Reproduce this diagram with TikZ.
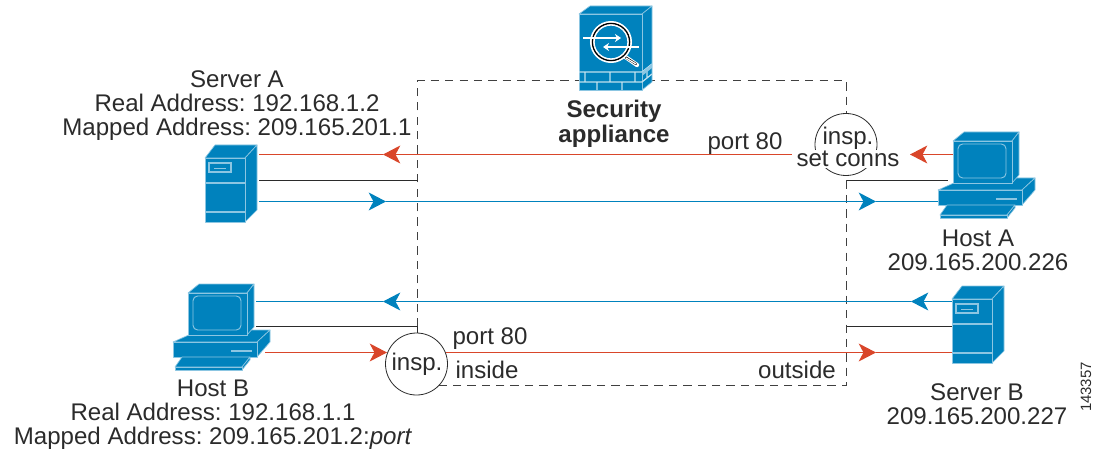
\documentclass[tikz,border=0pt]{standalone}
\usepackage{fontspec}
\setmainfont{Liberation Sans}
\frenchspacing
\usetikzlibrary{arrows.meta}
\definecolor{ciscoblue}{HTML}{0082BD}
\definecolor{edgeblue}{HTML}{8CC6E2}
\definecolor{flowred}{HTML}{D9462A}
\definecolor{inkgrey}{HTML}{2B2B2B}
\tikzset{
  x=0.75pt,y=-0.75pt,
  ico/.style={fill=ciscoblue,draw=edgeblue,line width=0.5pt,line join=round},
  lbl/.style={font=\fontsize{18.05}{18.1}\selectfont,text=inkgrey,align=center,inner sep=0pt},
  boundary/.style={draw=black!75,line width=1pt,dash pattern=on 6.2pt off 4.6pt},
  wire/.style={draw=inkgrey,line width=0.8pt},
  redflow/.style={draw=flowred,line width=0.85pt},
  blueflow/.style={draw=ciscoblue,line width=0.85pt},
  headed/.style={-{Stealth[length=13pt,width=13.5pt,inset=3.6pt]}},
  insp/.style={circle,draw=inkgrey,fill=white,line width=0.6pt,minimum size=46.5pt,inner sep=0pt},
  server/.pic={
    \path[ico] (0,0)--(10,-13)--(52,-13)--(40,0)--cycle;
    \path[ico] (40,0)--(52,-13)--(52,52)--(40,64)--cycle;
    \path[ico] (0,0) rectangle (40,64);
    \draw[edgeblue,line width=0.8pt] (0,25)--(40,25) (0,54)--(40,54);
    \draw[edgeblue,line width=0.8pt] (4,5) rectangle (26,14);
    \draw[edgeblue,line width=0.7pt] (9,10)--(21,10);
  },
  host/.pic={
    \path[ico] (-15,49)--(12,37)--(82,37)--(69,49)--cycle;
    \path[ico] (69,49)--(82,37)--(82,49)--(69,64)--cycle;
    \path[ico] (-15,49) rectangle (69,64);
    \draw[edgeblue,line width=0.9pt] (43,58)--(64,58);
    \path[ico] (0,0)--(11,-9)--(66,-9)--(59,0)--cycle;
    \path[ico] (59,0)--(66,-9)--(66,34)--(59,42)--cycle;
    \path[ico] (0,0) rectangle (59,42);
    \draw[edgeblue,line width=0.7pt,rounded corners=3.5pt] (5,3) rectangle (53,37);
    \path[ico] (-6,64)--(62,64)--(54,74)--(-13,74)--cycle;
    \path[ico] (54,74)--(62,64)--(62,67)--(54,77)--cycle;
    \path[ico] (-13,74) rectangle (54,77);
  },
  appliance/.pic={
    \path[ico] (0,0)--(11,-8)--(73,-8)--(63,0)--cycle;
    \path[ico] (63,0)--(73,-8)--(73,68)--(63,76)--cycle;
    \path[ico] (0,0) rectangle (63,76);
    \draw[white!75!ciscoblue,line width=0.9pt]
      (0,58)--(63,58)--(73,50) (0,68)--(63,68)--(73,60)
      (6,58)--(6,68) (31,58)--(31,68) (56,58)--(56,68)
      (18,68)--(18,76) (43,68)--(43,76)
      (68,54)--(68,64);
    \fill[edgeblue] (63,58)--(73,50)--(73,54)--(63,62)--cycle;
    \draw[white,line width=3.2pt,line cap=round] (45,42)--(58,51);
    \draw[black,line width=1.6pt,line cap=round] (46,43)--(57,50);
    \draw[white,line width=0.9pt,line cap=round] (47,44)--(57,50);
    \draw[white,line width=1pt] (4,24)--(23,24);
    \draw[white,line width=1pt] (42,33)--(60,33);
    \draw[white,line width=3pt] (32,28) circle (19);
    \draw[black,line width=1pt] (32,28) circle (18.6);
    \draw[white,line width=0.7pt] (32,28) circle (16.8);
    \draw[white,line width=1.8pt,-{Stealth[length=4.5pt,width=6pt]}] (6,24)--(42,24);
    \draw[white,line width=1.8pt,-{Stealth[length=4.5pt,width=6pt]}] (58,33)--(24,33);
  }
}
\begin{document}
\begin{tikzpicture}
\useasboundingbox (0,0) rectangle (1103,449);

% security boundary
\coordinate (bTL) at (417.5,80.5);
\coordinate (bTR) at (846.5,80.5);
\coordinate (bBR) at (846.5,385.5);
\coordinate (bBL) at (430,385.5);
\coordinate (lJoin) at (417.5,326.5);
\coordinate (rJoinA) at (846.5,180.5);
\coordinate (rJoinB) at (846.5,326.5);
\coordinate (cA) at (846,144.5);
\coordinate (cB) at (416.5,364);
\draw[boundary] (lJoin) -- (bTL) -- (bTR) -- (cA -| bTR);
\draw[boundary] (rJoinA) -- (bBR) -- (bBL);

% connector ends
\coordinate (saR) at (259,154.5);   \coordinate (saK) at (259,180.5); \coordinate (saB) at (259,201.5);
\coordinate (haR) at (953,154.5);   \coordinate (haK) at (948,180.5); \coordinate (haB) at (938,201.5);
\coordinate (hbB) at (256,301.5);   \coordinate (hbK) at (256,326.5); \coordinate (hbR) at (265,352.5);
\coordinate (sbB) at (952,301.5);   \coordinate (sbK) at (952,326.5); \coordinate (sbR) at (952,352.5);
\coordinate (t1) at (383,154.5);  \coordinate (t2) at (910,154.5);
\coordinate (t3) at (386,201.5);  \coordinate (t4) at (876,201.5);
\coordinate (t5) at (383,301.5);  \coordinate (t6) at (911,301.5);
\coordinate (t7) at (387,352.5);  \coordinate (t8) at (876,352.5);

% red, server A / host A
\draw[redflow,headed] (haR) -- (t2);
\draw[redflow,headed] (cA |- t1) -- (t1);
\draw[redflow] (t1) -- (saR);
% blue, server A / host A
\draw[blueflow,headed] (saB) -- (t3);
\draw[blueflow,headed] (t3) -- (t4);
\draw[blueflow] (t4) -- (haB);
% blue, server B / host B
\draw[blueflow,headed] (sbB) -- (t6);
\draw[blueflow,headed] (t6) -- (t5);
\draw[blueflow] (t5) -- (hbB);
% red, host B / server B
\draw[redflow,headed] (hbR) -- (t7);
\draw[redflow,headed] (cB |- t8) -- (t8);
\draw[redflow] (t8) -- (sbR);
% black links
\draw[wire] (saK) -- (saK -| lJoin);
\draw[wire] (rJoinA) -- (haK);
\draw[wire] (hbK) -- (lJoin) -- (cB -| lJoin);
\draw[wire] (rJoinB) -- (sbK);

% inspection circles
\node[insp] (inspA) at (cA) {};
\node[insp] (inspB) at (cB) {};
\node[lbl] (inspAt) at (848,138) {insp.};
\node[lbl,fill=white,inner xsep=3.5pt,inner ysep=1pt] (setconns) at (848,159) {set conns};
\node[lbl] (inspBt) at (417,364.5) {insp.};

% icons
\pic at (205,158) {server};
\pic at (952,299) {server};
\pic at (953,141) {host};
\pic at (188,293) {host};
\pic at (579,14) {appliance};

% labels
\node[lbl] (lSA) at (237,105.5) {Server A\\Real Address: 192.168.1.2\\Mapped Address: 209.165.201.1};
\node[lbl] (lHA) at (978,250.5) {Host A\\209.165.200.226};
\node[lbl] (lHB) at (213,415) {Host B\\Real Address: 192.168.1.1\\Mapped Address: 209.165.201.2:\textit{port}};
\node[lbl] (lSB) at (977,404) {Server B\\209.165.200.227};
\node[lbl,font=\fontsize{18.05}{18.7}\selectfont\bfseries] (lSec) at (614,123.5) {Security\\appliance};
\node[lbl] (p1) at (745,143.5) {port 80};
\node[lbl] (p2) at (490,338.5) {port 80};
\node[lbl] (in) at (487,369.5) {inside};
\node[lbl] (out) at (797,369.5) {outside};
\node[lbl,font=\fontsize{11.2}{12}\selectfont,rotate=90] (fig) at (1086,387) {143357};
\end{tikzpicture}
\end{document}
